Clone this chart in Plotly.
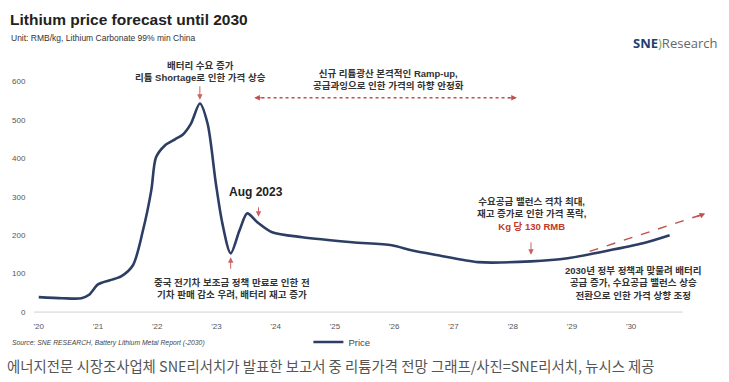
import plotly.graph_objects as go

# ---- data ----
years = [2020.0, 2020.4, 2020.72, 2020.85, 2021.0, 2021.2, 2021.39, 2021.59, 2021.76, 2021.9,
         2021.98, 2022.13, 2022.3, 2022.43, 2022.57, 2022.72, 2022.85, 2022.99, 2023.1, 2023.24,
         2023.39, 2023.52, 2023.69, 2023.94, 2024.45, 2025.29, 2025.96, 2026.29, 2026.74, 2027.42,
         2028.31, 2028.93, 2029.48, 2030.2, 2030.65]
price = [39, 36, 36, 45, 72, 83, 93, 122, 213, 317,
         403, 434, 450, 462, 491, 543, 491, 335, 231, 153,
         213, 257, 234, 208, 195, 182, 174, 161, 148, 130,
         132, 140, 156, 179, 200]
tick_years = [2020, 2021, 2022, 2023, 2024, 2025, 2026, 2027, 2028, 2029, 2030]
tick_labels = ["'20", "'21", "'22", "'23", "'24", "'25", "'26", "'27", "'28", "'29", "'30"]
y_ticks = [0, 100, 200, 300, 400, 500, 600]

# ---- layout geometry ----
W, H = 729, 382
ML, MR, MT, MB = 30, 12, 74, 68
PW = W - ML - MR
PH = H - MT - MB
XR = [2019.92, 2031.45]
YR = [-5, 620]


def px(x):
    return (x - ML) / PW


def py(y):
    return (H - MB - y) / PH


KR = "Liberation Sans, Noto Sans CJK KR"
CAP = "Noto Sans CJK KR"
AR = "Liberation Sans, Arial"
RED = "#c0392b"
ARW = "#c86464"

fig = go.Figure()
fig.add_trace(go.Scatter(x=years, y=price, mode="lines", name="Price",
                         line=dict(color="#2c3e63", width=2.6, shape="spline", smoothing=0.8)))

shapes = [
    dict(type="line", xref="x", yref="y", x0=2019.92, x1=2030.87, y0=0, y1=0,
         line=dict(color="#d0d0d0", width=1)),
    dict(type="line", xref="x", yref="y", x0=2023.66, x1=2028.05, y0=558, y1=558,
         line=dict(color="#c0504d", width=1.4, dash="dot")),
    dict(type="line", xref="x", yref="y", x0=2029.3, x1=2031.2, y0=158, y1=254,
         line=dict(color="#c0504d", width=1.4, dash="dash")),
]

ann = []


def text(x, y, t, size=10, color="#333", family=KR, xanchor="center", yanchor="middle", align="center"):
    ann.append(dict(x=px(x), y=py(y), xref="paper", yref="paper", text=t, showarrow=False,
                    font=dict(size=size, color=color, family=family), xanchor=xanchor,
                    yanchor=yanchor, align=align))


def arrow(x, y, ax, ay, color=ARW):
    ann.append(dict(x=x, y=y, xref="x", yref="y", ax=ax, ay=ay, axref="pixel", ayref="pixel",
                    text="", showarrow=True, arrowhead=2, arrowsize=1.1, arrowwidth=1,
                    arrowcolor=color))


# title & subtitle
text(4, 20, "<b>Lithium price forecast until 2030</b>", size=15.5, color="#222", family=AR, xanchor="left")
text(5, 38, "Unit: RMB/kg, Lithium Carbonate 99% min China", size=8.5, color="#333", family=AR, xanchor="left")
# logo
text(719, 43, "<b><span style='color:#1d3f73'>SNE</span></b><span style='color:#6aa84f'>)</span>"
     "<span style='color:#666'>Research</span>", size=13, family="Open Sans", xanchor="right")

# annotations
text(197, 71, "<b>배터리 수요 증가<br>리튬 Shortage로 인한 가격 상승</b>", size=9.5)
arrow(2022.72, 553, 0, -15)
text(387, 79, "<b>신규 리튬광산 본격적인 Ramp-up,<br>공급과잉으로 인한 가격의 하향 안정화</b>", size=9.5)
arrow(2023.64, 558, 10, 0, color="#c0504d")
arrow(2028.07, 558, -10, 0, color="#c0504d")
text(253, 192, "<b>Aug 2023</b>", size=12, color="#222", family=AR)
arrow(2023.71, 248, 0, -11)
arrow(2023.24, 143, 0, 13)
text(229, 288, "<b>중국 전기차 보조금 정책 만료로 인한 전<br>기차 판매 감소 우려, 배터리 재고 증가</b>", size=9.5)
text(530, 214, "<b>수요공급 밸런스 격차 최대,<br>재고 증가로 인한 가격 폭락,<br>"
     f"<span style='color:{RED}'>Kg 당 130 RMB</span></b>", size=9.5)
arrow(2028.31, 149, 0, -14)
text(633, 283, "<b>2030년 정부 정책과 맞물려 배터리<br>공급 증가, 수요공급 밸런스 상승<br>전환으로 인한 가격 상향 조정</b>", size=9.5)
arrow(2031.25, 257, -9, 4, color="#c0504d")

# source & caption
text(6, 343, "<i>Source: SNE RESEARCH, Battery Lithium Metal Report (-2030)</i>", size=6.8,
     color="#444", family=AR, xanchor="left")
text(1, 365, "에너지전문 시장조사업체 SNE리서치가 발표한 보고서 중 리튬가격 전망 그래프/사진=SNE리서치, 뉴시스 제공",
     size=14.4, color="#555", family=CAP, xanchor="left")

fig.update_layout(
    width=W, height=H,
    margin=dict(l=ML, r=MR, t=MT, b=MB),
    paper_bgcolor="white", plot_bgcolor="white",
    shapes=shapes, annotations=ann,
    showlegend=True,
    legend=dict(orientation="h", x=px(306), y=py(342), xanchor="left", yanchor="middle",
                font=dict(size=9.5, color="#444", family=AR), itemwidth=30,
                bgcolor="rgba(0,0,0,0)"),
    xaxis=dict(range=XR, tickmode="array", tickvals=tick_years, ticktext=tick_labels,
               showgrid=False, zeroline=False, showline=False,
               ticks="outside", ticklen=4, tickcolor="rgba(0,0,0,0)",
               tickfont=dict(size=8, color="#555", family=AR)),
    yaxis=dict(range=YR, tickmode="array", tickvals=y_ticks,
               showgrid=False, zeroline=False, showline=False,
               ticks="outside", ticklen=6, tickcolor="rgba(0,0,0,0)",
               tickfont=dict(size=8, color="#555", family=AR)),
)

fig.write_html("out.html", config={"displayModeBar": False},
               post_script="document.body.style.margin='0';")
